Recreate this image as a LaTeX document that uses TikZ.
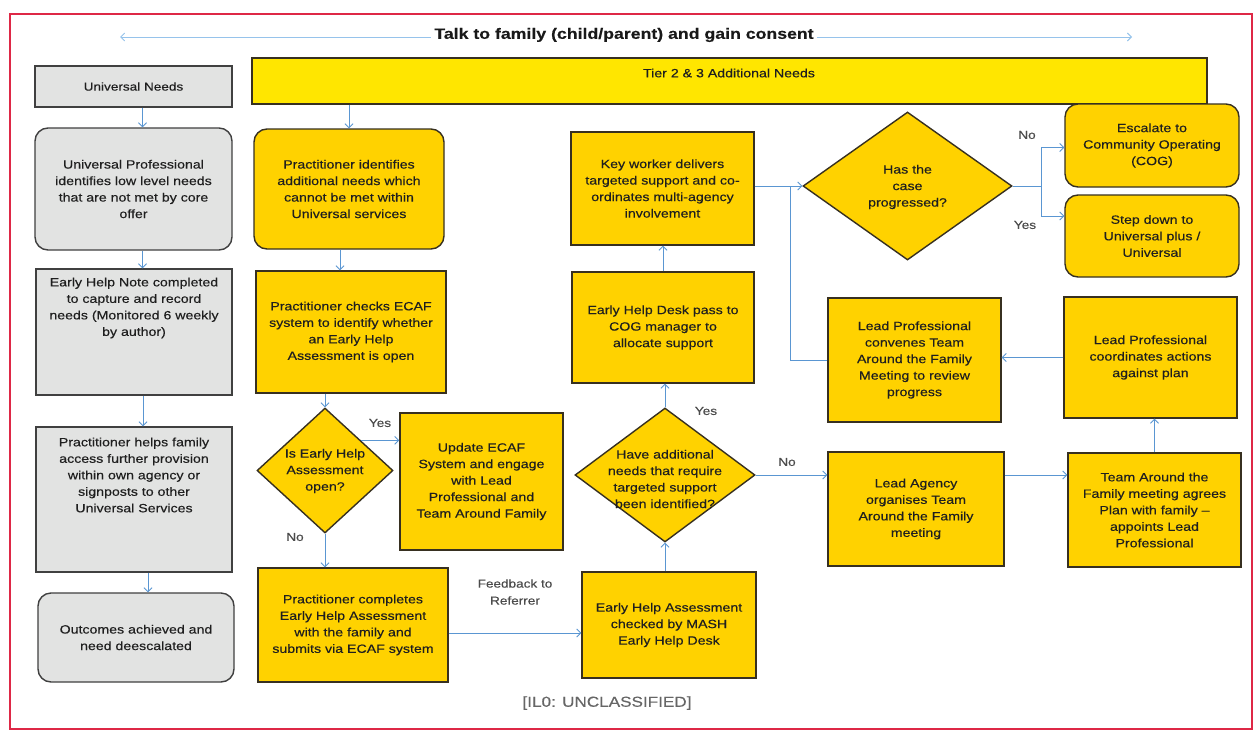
\documentclass[tikz,border=0pt]{standalone}
\usepackage{fontspec}
\setmainfont{Liberation Sans}[FakeStretch=1.18, FakeBold=0.3]
\usetikzlibrary{shapes.geometric,arrows.meta}
\definecolor{ylw}{RGB}{255,210,0}
\definecolor{lemon}{RGB}{255,230,0}
\definecolor{gry}{RGB}{226,227,226}
\definecolor{edgec}{RGB}{55,48,32}
\definecolor{conn}{RGB}{90,150,210}
\definecolor{lconn}{RGB}{150,195,235}
\definecolor{framec}{RGB}{222,40,70}
\begin{document}
\begin{tikzpicture}[x=1pt,y=-1pt,
  box/.style={draw=edgec, line width=1.4pt, align=center, font=\fontsize{12}{16.5}\selectfont, inner sep=2pt, text=black!88},
  ybox/.style={box, fill=ylw},
  gbox/.style={box, fill=gry, draw=black!75},
  rnd/.style={rounded corners=13pt},
  dia/.style={diamond, draw=edgec, line width=1.4pt, fill=ylw, inner sep=0pt},
  txt/.style={align=center, font=\fontsize{12}{16.5}\selectfont, text=black!88},
  lbl/.style={font=\fontsize{11.5}{17}\selectfont, text=black!70, align=center},
  arr/.style={draw=conn, line width=0.9pt, -{Straight Barb[length=4pt,width=8pt]}},
  ln/.style={draw=conn, line width=0.9pt},
]
\useasboundingbox (0,0) rectangle (1258,731);
\fill[white] (0,0) rectangle (1258,731);
\draw[framec, line width=1.6pt] (10,14) rectangle (1252,729);

% title arrow
\coordinate (tl) at (120,37);
\coordinate (tr) at (1132,37);
\draw[draw=lconn, line width=0.9pt, {Straight Barb[length=4pt,width=8pt]}-{Straight Barb[length=4pt,width=8pt]}] (tl) -- (tr);
\node[font=\bfseries\fontsize{15}{18}\selectfont, fill=white, inner xsep=3pt, text=black!90] (title) at (624,35) {Talk to family (child/parent) and gain consent};

% left column
\node[gbox, minimum width=197pt, minimum height=41pt, font=\fontsize{11.5}{14}\selectfont] (un) at (133.5,86.5) {Universal Needs};
\node[gbox, rnd, minimum width=197pt, minimum height=122pt] (up) at (133.5,189) {Universal Professional\\identifies low level needs\\that are not met by core\\offer};
\node[gbox, minimum width=196pt, minimum height=126pt] (ehn) at (134,332) {};
\node[txt] (ehnt) at (134,308) {Early Help Note completed\\to capture and record\\needs (Monitored 6 weekly\\by author)};
\node[gbox, minimum width=196pt, minimum height=145pt] (helps) at (134,499.5) {};
\node[txt] (helpst) at (134,475) {Practitioner helps family\\access further provision\\within own agency or\\signposts to other\\Universal Services};
\node[gbox, rnd, minimum width=196pt, minimum height=89pt] (outc) at (136,637.5) {Outcomes achieved and\\need deescalated};

% tier bar
\node[box, fill=lemon, minimum width=955pt, minimum height=46pt] (tier) at (729.5,81) {};
\node[txt, font=\fontsize{12}{14}\selectfont] (tiert) at (729,73) {Tier 2 \& 3 Additional Needs};

% middle
\node[ybox, rnd, minimum width=190pt, minimum height=120pt] (pid) at (349,189) {Practitioner identifies\\additional needs which\\cannot be met within\\Universal services};
\node[ybox, minimum width=190pt, minimum height=122pt] (pchk) at (351,332) {Practitioner checks ECAF\\system to identify whether\\an Early Help\\Assessment is open};
\node[dia, minimum width=136pt, minimum height=125pt] (q1) at (325,470.5) {};
\node[txt] (q1t) at (325,471) {Is Early Help\\Assessment\\open?};
\node[ybox, minimum width=163pt, minimum height=137pt] (upd) at (481.5,481.5) {Update ECAF\\System and engage\\with Lead\\Professional and\\Team Around Family};
\node[ybox, minimum width=190pt, minimum height=114pt] (pcomp) at (353,625) {Practitioner completes\\Early Help Assessment\\with the family and\\submits via ECAF system};
\node[ybox, minimum width=174pt, minimum height=106pt] (mash) at (669,625) {Early Help Assessment\\checked by MASH\\Early Help Desk};
\node[dia, minimum width=180pt, minimum height=134pt] (q2) at (665,475) {};
\node[txt] (q2t) at (665,479) {Have additional\\needs that require\\targeted support\\been identified?};
\node[ybox, minimum width=182pt, minimum height=111pt] (ehd) at (663,327.5) {Early Help Desk pass to\\COG manager to\\allocate support};
\node[ybox, minimum width=183pt, minimum height=113pt] (kw) at (662.5,188.5) {Key worker delivers\\targeted support and co-\\ordinates multi-agency\\involvement};

% right
\node[dia, minimum width=209pt, minimum height=148pt] (q3) at (907.5,186) {};
\node[txt] (q3t) at (907.5,187) {Has the\\case\\progressed?};
\node[ybox, rnd, minimum width=174pt, minimum height=83pt] (esc) at (1152,145.5) {Escalate to\\Community Operating\\(COG)};
\node[ybox, rnd, minimum width=174pt, minimum height=82pt] (step) at (1152,236) {Step down to\\Universal plus /\\Universal};
\node[ybox, minimum width=173pt, minimum height=124pt] (conv) at (914.5,360) {Lead Professional\\convenes Team\\Around the Family\\Meeting to review\\progress};
\node[ybox, minimum width=173pt, minimum height=121pt] (lpc) at (1150.5,357.5) {Lead Professional\\coordinates actions\\against plan};
\node[ybox, minimum width=176pt, minimum height=114pt] (la) at (916,509) {Lead Agency\\organises Team\\Around the Family\\meeting};
\node[ybox, minimum width=173pt, minimum height=114pt] (tam) at (1154.5,510) {Team Around the\\Family meeting agrees\\Plan with family --\\appoints Lead\\Professional};

% connectors
\draw[arr] ([xshift=9pt]un.south) -- ([xshift=9pt]un.south |- up.north);
\draw[arr] ([xshift=9pt]up.south) -- ([xshift=9pt]up.south |- ehn.north);
\draw[arr] ([xshift=9pt]ehn.south) -- ([xshift=9pt]ehn.south |- helps.north);
\draw[arr] ([xshift=14pt]helps.south) -- ([xshift=14pt]helps.south |- outc.north);
\draw[arr] (tier.south -| pid.north) -- (pid.north);
\draw[arr] ([xshift=-9pt]pid.south) -- ([xshift=-9pt]pid.south |- pchk.north);
\draw[arr] (pchk.south -| q1.north) -- (q1.north);
\draw[arr] (q1.40) -- (q1.40 -| upd.west);
\draw[arr] (q1.south) -- (q1.south |- pcomp.north);
\draw[arr] ([yshift=-8pt]pcomp.east) -- ([yshift=-8pt]pcomp.east -| mash.west);
\draw[arr] (q2.south |- mash.north) -- (q2.south);
\draw[arr] (q2.north) -- (q2.north |- ehd.south);
\draw[arr] (ehd.north) -- (ehd.north |- kw.south);
\draw[arr] (q2.east) -- (q2.east -| la.west);
\draw[arr] (la.east |- q2.east) -- (tam.west |- q2.east);
\draw[arr] (tam.north) -- (tam.north |- lpc.south);
\draw[arr] (lpc.west) -- (lpc.west -| conv.east);
\coordinate (m) at (790,186);
\draw[ln] (conv.west) -| (m);
\draw[arr] (kw.east |- q3.west) -- (q3.west);
\coordinate (br) at (1041,186);
\draw[ln] (q3.east) -- (br);
\draw[arr] (br) |- ([yshift=-2pt]esc.west);
\draw[arr] (br) |- ([yshift=20pt]step.west);

% labels
\node[lbl] (l1) at (1027,135) {No};
\node[lbl] (l2) at (1025,225) {Yes};
\node[lbl] (l3) at (380,423) {Yes};
\node[lbl] (l4) at (295,537) {No};
\node[lbl] (l5) at (706,411) {Yes};
\node[lbl] (l6) at (787,462) {No};
\node[lbl] (l7) at (515,592) {Feedback to\\Referrer};
\node[font=\fontsize{14.5}{16}\selectfont, text=black!60] (cls) at (607,703) {[IL0: UNCLASSIFIED]};
\end{tikzpicture}
\end{document}
